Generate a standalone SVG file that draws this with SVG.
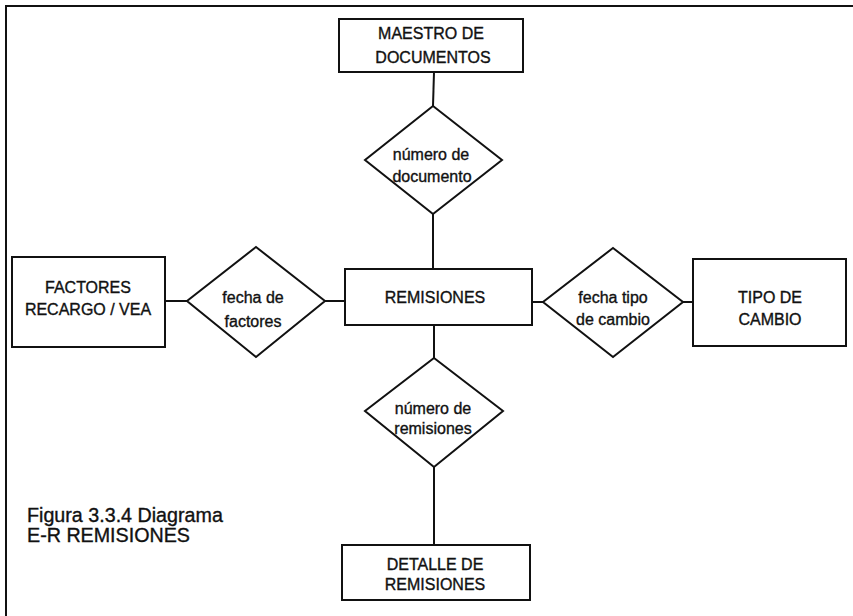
<svg xmlns="http://www.w3.org/2000/svg" width="853" height="616" viewBox="0 0 853 616">
<style>
.box{fill:#fff;stroke:#111;stroke-width:2}
.dia{fill:#fff;stroke:#111;stroke-width:2;stroke-linejoin:miter}
.ln{stroke:#111;stroke-width:2;fill:none}
text{font-family:"Liberation Sans",Arial,sans-serif;font-size:16px;fill:#111;stroke:#111;stroke-width:0.35;text-anchor:middle}
.cap{font-size:19.7px;text-anchor:start}
</style>
<rect width="853" height="616" fill="#fff"/>
<path class="ln" d="M6,616 L6,6 L853,6"/>
<g id="connectors">
<line class="ln" x1="434" y1="72" x2="433" y2="106"/>
<line class="ln" x1="433" y1="214" x2="433" y2="269"/>
<line class="ln" x1="165" y1="301" x2="187" y2="301"/>
<line class="ln" x1="325" y1="301" x2="345" y2="301"/>
<line class="ln" x1="532" y1="302" x2="543" y2="302"/>
<line class="ln" x1="683" y1="302" x2="693" y2="302"/>
<line class="ln" x1="434" y1="325" x2="434" y2="358"/>
<line class="ln" x1="434" y1="467" x2="434" y2="545"/>
</g>
<g id="maestro">
<rect class="box" x="339" y="19" width="184" height="53"/>
<text x="431" y="39">MAESTRO DE</text>
<text x="433" y="63">DOCUMENTOS</text>
</g>
<g id="rel-documento">
<polygon class="dia" points="433,106 502,160 433,214 365,160"/>
<text x="431" y="160">número de</text>
<text x="432" y="182">documento</text>
</g>
<g id="remisiones">
<rect class="box" x="345" y="269" width="187" height="56"/>
<text x="435" y="303">REMISIONES</text>
</g>
<g id="factores">
<rect class="box" x="12" y="257" width="153" height="90"/>
<text x="88" y="293">FACTORES</text>
<text x="88" y="315">RECARGO / VEA</text>
</g>
<g id="rel-factores">
<polygon class="dia" points="256,247 325,301 256,357 187,301"/>
<text x="253" y="303">fecha de</text>
<text x="253" y="327">factores</text>
</g>
<g id="rel-cambio">
<polygon class="dia" points="613,248 683,302 613,357 543,302"/>
<text x="613" y="303">fecha tipo</text>
<text x="613" y="325">de cambio</text>
</g>
<g id="tipo-cambio">
<rect class="box" x="693" y="259" width="153" height="87"/>
<text x="770" y="303">TIPO DE</text>
<text x="770" y="325">CAMBIO</text>
</g>
<g id="rel-remisiones">
<polygon class="dia" points="434,358 503,411 434,467 365,411"/>
<text x="433" y="414">número de</text>
<text x="433" y="434">remisiones</text>
</g>
<g id="detalle">
<rect class="box" x="342" y="545" width="188" height="55"/>
<text x="435" y="570">DETALLE DE</text>
<text x="435" y="590">REMISIONES</text>
</g>
<g id="caption">
<text class="cap" x="27" y="522">Figura 3.3.4 Diagrama</text>
<text class="cap" x="27" y="542">E-R REMISIONES</text>
</g>
</svg>
